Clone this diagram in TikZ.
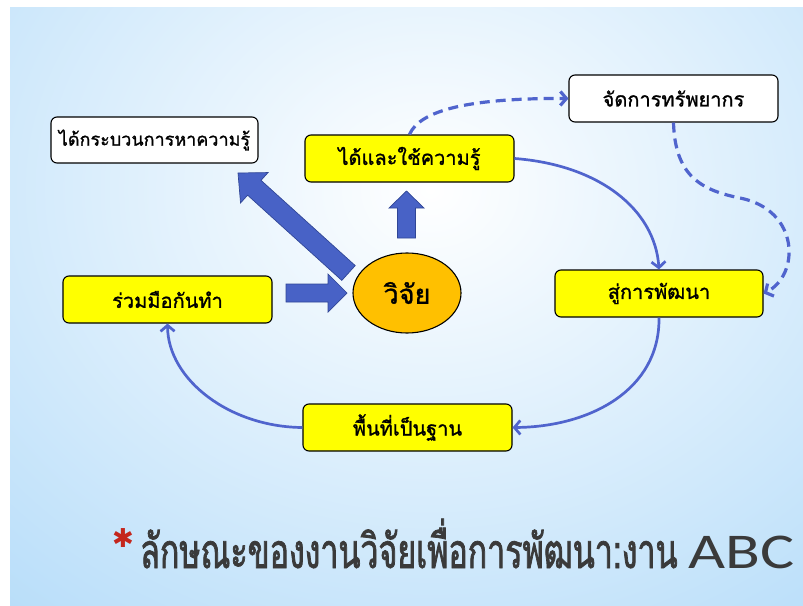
\documentclass[tikz,border=0pt]{standalone}
\usepackage{fontspec}
\newfontfamily\thai[Script=Thai,FakeBold=1.2]{Loma}
\newfontfamily\thaititle[Script=Thai,FakeStretch=0.67,FakeBold=1.5]{Loma}
\newfontfamily\carlito{Carlito}
\newfontfamily\dejavu{DejaVu Sans}
\usetikzlibrary{calc,arrows.meta,shapes.geometric}
\definecolor{bgblue}{RGB}{170,215,248}
\definecolor{boxyellow}{RGB}{255,255,0}
\definecolor{ellorange}{RGB}{255,192,0}
\definecolor{arrfill}{RGB}{72,98,198}
\definecolor{arrdraw}{RGB}{48,70,150}
\definecolor{lineblue}{RGB}{80,100,205}
\definecolor{titlegray}{RGB}{58,58,58}
\definecolor{starred}{RGB}{196,38,28}
\tikzset{
  box/.style={draw=black, line width=1.1pt, rounded corners=6pt,
    minimum width=209pt, minimum height=47pt, inner sep=0pt,
    font=\thai\fontsize{20}{22}\selectfont},
  ybox/.style={box, fill=boxyellow},
  wbox/.style={box, fill=white},
  barrow/.style={fill=arrfill, draw=arrdraw, line width=0.7pt, line join=miter},
  conn/.style={draw=lineblue, line width=2.7pt, -{Straight Barb[length=6pt,width=14pt]}},
  dconn/.style={conn, line width=3.2pt, dash pattern=on 10pt off 6pt},
}
\newcommand\blockarrow[5]{%
  \coordinate (bS) at (#1); \coordinate (bT) at (#2);
  \coordinate (bB) at ($(bT)!#5!(bS)$);
  \draw[barrow] ($(bS)!#3!90:(bT)$) -- ($(bB)!#3!-90:(bS)$) -- ($(bB)!#4!-90:(bS)$)
    -- (bT) -- ($(bB)!#4!90:(bS)$) -- ($(bB)!#3!90:(bS)$) -- ($(bS)!#3!-90:(bT)$) -- cycle;}
\newcommand\titletext{{\thaititle\fontsize{48}{50}\selectfont ลักษณะของงานวิจัยเพื่อการพัฒนา:งาน }{\carlito\fontsize{50}{52}\selectfont\scalebox{1.28}[1]{ABC}}}
\begin{document}
\begin{tikzpicture}[x=1pt,y=-1pt]
\useasboundingbox (0,0) rectangle (803,605);
\fill[white] (0,0) rectangle (803,605);
\begin{scope}
  \clip (10,7) rectangle (803,605);
  \fill[bgblue] (10,7) rectangle (803,605);
  \shade[inner color=white, outer color=bgblue] (-360,-470) rectangle (1220,850);
\end{scope}

% nodes
\node[wbox, minimum width=207pt, minimum height=46pt, font=\thai\fontsize{18}{20}\selectfont] (proc) at (154.5,140) {ได้กระบวนการหาความรู้};
\node[ybox] (know) at (409.5,158.5) {ได้และใช้ความรู้};
\node[wbox] (res) at (673.5,98.5) {จัดการทรัพยากร};
\node[ybox, minimum width=208pt] (dev) at (659,293.5) {สู่การพัฒนา};
\node[ybox] (coop) at (167.5,299.5) {ร่วมมือกันทำ};
\node[ybox] (area) at (407.5,427.5) {พื้นที่เป็นฐาน};
\node[ellipse, draw=black, line width=1.1pt, fill=ellorange, minimum width=108pt,
  minimum height=80pt, inner sep=0pt, font=\thai\fontsize{27}{29}\selectfont] (study) at (407,293) {วิจัย};

% block arrows
\blockarrow{286,293}{347,293}{9pt}{19pt}{19pt}
\blockarrow{406.5,238}{406.5,191}{9pt}{17.5pt}{17pt}
\blockarrow{348.5,273}{238,173}{10pt}{20.5pt}{22pt}

% connectors
\draw[conn] (know.east) .. controls (600,165) and (655,210) .. (dev.north);
\draw[conn] (dev.south) .. controls (660,390) and (590,427) .. (area.east);
\draw[conn] (area.west) .. controls (230,427) and (168,380) .. (coop.south);
\draw[dconn] (know.north) .. controls (420,110) and (470,98) .. (res.west);
\draw[dconn] (res.south) .. controls (675,175) and (700,190) .. (740,198)
  .. controls (800,210) and (800,275) .. (dev.east);

% title
\node[anchor=center, text=starred, font=\dejavu\fontsize{26}{26}\selectfont, inner sep=0pt] (star) at (123,538) {✱};
\node[anchor=base west, inner sep=0pt, text=titlegray] (title) at (140,568) {\titletext};
\end{tikzpicture}
\end{document}
